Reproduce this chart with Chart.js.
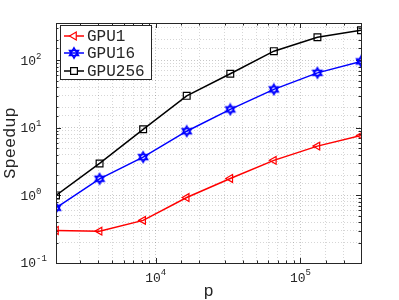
<!DOCTYPE html>
<html>
<head>
<meta charset="utf-8">
<script src="https://cdn.jsdelivr.net/npm/chart.js@4/dist/chart.umd.min.js"></script>
<style>
html,body{margin:0;padding:0;background:#fff;}
#wrap{width:399px;height:300px;position:relative;}
</style>
</head>
<body>
<div id="wrap"><canvas id="c" width="399" height="300"></canvas></div>
<script>
// ---- data ----
const pValues = [2048, 4096, 8192, 16384, 32768, 65536, 131072, 262144];
const gpu1 = [0.303, 0.296, 0.427, 0.93, 1.78, 3.3, 5.36, 7.7];
const gpu16 = [0.656, 1.76, 3.69, 8.9, 18.7, 37, 65, 96];
const gpu256 = [1.0, 2.97, 9.5, 29.7, 63, 136, 219, 277];
const seriesNames = ['GPU1', 'GPU16', 'GPU256'];
const xTickValues = [10000, 100000];
const xTickExps = ['4', '5'];
const yTickValues = [0.1, 1, 10, 100];
const yTickExps = ['-1', '0', '1', '2'];
const xTitle = 'p';
const yTitle = 'Speedup';

const MONO = '"Liberation Mono", "DejaVu Sans Mono", monospace';

function hexagram(color) {
  const c = document.createElement('canvas');
  c.width = 14; c.height = 14;
  const g = c.getContext('2d');
  g.strokeStyle = color; g.lineWidth = 1.5;
  const r = 5.2, cx = 7, cy = 7;
  for (let k = 0; k < 2; k++) {
    g.beginPath();
    for (let i = 0; i < 3; i++) {
      const a = (k ? Math.PI : 0) - Math.PI / 2 + i * 2 * Math.PI / 3;
      const px = cx + r * Math.cos(a), py = cy + r * Math.sin(a);
      if (i === 0) g.moveTo(px, py); else g.lineTo(px, py);
    }
    g.closePath(); g.stroke();
  }
  return c;
}
const starImg = hexagram('#0000ff');

function isMajor(v) {
  const l = Math.log10(v);
  return Math.abs(l - Math.round(l)) < 1e-9;
}

const frame = {
  id: 'frame',
  beforeDatasetsDraw(chart) {
    const {ctx, chartArea: a, scales} = chart;
    ctx.save();
    ctx.strokeStyle = '#262626';
    ctx.lineWidth = 1;
    ctx.beginPath();
    scales.x.ticks.forEach(t => {
      const px = Math.round(scales.x.getPixelForValue(t.value)) + 0.5;
      const len = isMajor(t.value) ? 5 : 2.5;
      ctx.moveTo(px, a.bottom); ctx.lineTo(px, a.bottom - len);
      ctx.moveTo(px, a.top); ctx.lineTo(px, a.top + len);
    });
    scales.y.ticks.forEach(t => {
      const py = Math.round(scales.y.getPixelForValue(t.value)) + 0.5;
      const len = isMajor(t.value) ? 5 : 2.5;
      ctx.moveTo(a.left, py); ctx.lineTo(a.left + len, py);
      ctx.moveTo(a.right, py); ctx.lineTo(a.right - len, py);
    });
    ctx.stroke();
    ctx.restore();
  },
  afterDraw(chart) {
    const {ctx, chartArea: a, scales} = chart;
    ctx.save();
    ctx.strokeStyle = '#262626';
    ctx.lineWidth = 1;
    ctx.strokeRect(Math.round(a.left) + 0.5, Math.round(a.top) + 0.5,
      Math.round(a.right - a.left), Math.round(a.bottom - a.top));
    ctx.fillStyle = '#262626';
    ctx.textBaseline = 'middle';
    yTickValues.forEach((v, i) => {
      const py = scales.y.getPixelForValue(v);
      ctx.font = '13px ' + MONO;
      ctx.textAlign = 'left';
      ctx.fillText('10', 20.5, py + 1);
      ctx.font = '9px ' + MONO;
      ctx.fillText(yTickExps[i], 36, py - 4);
    });
    xTickValues.forEach((v, i) => {
      const px = scales.x.getPixelForValue(v);
      ctx.font = '13px ' + MONO;
      const w1 = ctx.measureText('10').width;
      ctx.font = '9px ' + MONO;
      const w2 = ctx.measureText(xTickExps[i]).width;
      const x0 = px - (w1 + w2) / 2;
      ctx.font = '13px ' + MONO;
      ctx.textAlign = 'left';
      ctx.fillText('10', x0, a.bottom + 16);
      ctx.font = '9px ' + MONO;
      ctx.fillText(xTickExps[i], x0 + w1, a.bottom + 10);
    });
    ctx.font = '17px ' + MONO;
    ctx.textAlign = 'center';
    ctx.fillText(xTitle, (a.left + a.right) / 2, a.bottom + 28);
    ctx.save();
    ctx.translate(10, (a.top + a.bottom) / 2);
    ctx.rotate(-Math.PI / 2);
    ctx.fillText(yTitle, 0, 0);
    ctx.restore();
    // legend
    const lx = 60.5, ly = 25.5, lw = 91, lh = 54;
    ctx.fillStyle = '#fff';
    ctx.fillRect(lx, ly, lw, lh);
    ctx.strokeStyle = '#262626';
    ctx.strokeRect(lx, ly, lw, lh);
    const rowsY = [36, 53, 71];
    chart.data.datasets.forEach((ds, i) => {
      const y = rowsY[i];
      ctx.strokeStyle = ds.borderColor;
      ctx.lineWidth = 1.5;
      ctx.beginPath(); ctx.moveTo(64, y); ctx.lineTo(84, y); ctx.stroke();
      ctx.fillStyle = '#ffffff';
      ctx.strokeStyle = ds.borderColor;
      ctx.lineWidth = ds.pointBorderWidth || 1.2;
      Chart.helpers.drawPoint(ctx, {
        pointStyle: ds.pointStyle, radius: ds.pointRadius,
        rotation: ds.pointRotation || 0, borderWidth: ds.pointBorderWidth || 1.2
      }, 74, y);
      ctx.fillStyle = '#262626';
      ctx.font = '16px ' + MONO;
      ctx.textAlign = 'left';
      ctx.textBaseline = 'middle';
      ctx.fillText(seriesNames[i], 87, y + 1);
    });
    ctx.restore();
  }
};

const gridColor = (c) => (c.tick && isMajor(c.tick.value)) ? 'rgba(0,0,0,0.22)' : 'rgba(0,0,0,0.16)';

new Chart(document.getElementById('c'), {
  type: 'line',
  data: {
    datasets: [
      { label: seriesNames[0], data: pValues.map((x, i) => ({x, y: gpu1[i]})),
        borderColor: '#ff0000', backgroundColor: 'rgba(0,0,0,0)', borderWidth: 1.5,
        pointStyle: 'triangle', pointRotation: -90, pointRadius: 4.5, pointBorderWidth: 1.2 },
      { label: seriesNames[1], data: pValues.map((x, i) => ({x, y: gpu16[i]})),
        borderColor: '#0000ff', backgroundColor: 'rgba(0,0,0,0)', borderWidth: 1.5,
        pointStyle: starImg, pointRadius: 5, pointBorderWidth: 1.2 },
      { label: seriesNames[2], data: pValues.map((x, i) => ({x, y: gpu256[i]})),
        borderColor: '#000000', backgroundColor: 'rgba(0,0,0,0)', borderWidth: 1.5,
        pointStyle: 'rect', pointRadius: 4.8, pointBorderWidth: 1.2 }
    ]
  },
  options: {
    responsive: false,
    animation: false,
    devicePixelRatio: 1,
    layout: { padding: { left: 56, right: 38, top: 23, bottom: 37 } },
    plugins: { legend: { display: false }, tooltip: { enabled: false } },
    elements: { line: { tension: 0 }, point: { hoverRadius: 5 } },
    scales: {
      x: { type: 'logarithmic', min: 2048, max: 262144,
        ticks: { display: false },
        grid: { drawTicks: false, color: gridColor, lineWidth: 1 },
        border: { display: false, dash: [1, 2] } },
      y: { type: 'logarithmic', min: 0.1, max: 355,
        ticks: { display: false },
        grid: { drawTicks: false, color: gridColor, lineWidth: 1 },
        border: { display: false, dash: [1, 2] } }
    }
  },
  plugins: [frame]
});
</script>
</body>
</html>
